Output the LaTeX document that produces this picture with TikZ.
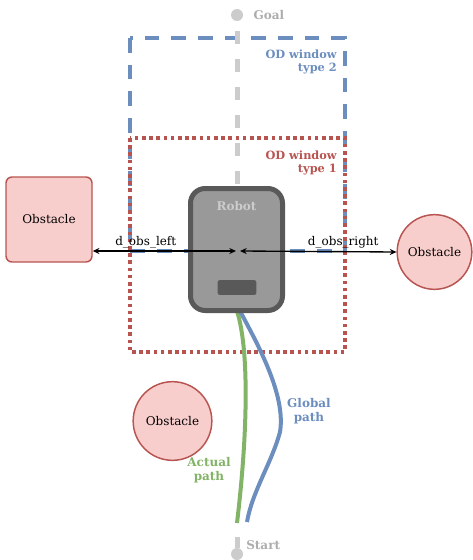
\documentclass[tikz,border=0pt]{standalone}
\usepackage{fontspec}
\setmainfont{DejaVu Serif}
\usetikzlibrary{positioning,arrows.meta}

\definecolor{winblue}{HTML}{6C8EBF}
\definecolor{winred}{HTML}{B85450}
\definecolor{pathgreen}{HTML}{82B366}
\definecolor{obsfill}{HTML}{F8CECC}
\definecolor{markgray}{HTML}{CCCCCC}
\definecolor{robotfill}{HTML}{999999}
\definecolor{robotdark}{HTML}{595959}

\tikzset{
  obstaclebox/.style={rectangle, rounded corners=4.5pt, draw=winred, fill=obsfill, line width=1.1pt, minimum width=64.5pt, minimum height=63.75pt, font=\fontsize{9}{10}\selectfont},
  obstacle/.style={circle, draw=winred, fill=obsfill, line width=1.1pt, inner sep=0pt, font=\fontsize{9}{10}\selectfont},
  window2/.style={draw=winblue, line width=3pt, dash pattern=on 11pt off 9pt},
  window1/.style={draw=winred, line width=3pt, dash pattern=on 2.7pt off 2.7pt},
  wintext/.style={align=right, inner sep=0pt, font=\bfseries\fontsize{8.5}{9.75}\selectfont},
  waypoint/.style={circle, fill=markgray, minimum size=9pt, inner sep=0pt},
  waytext/.style={inner sep=0pt, text=markgray!85!black, font=\bfseries\fontsize{9}{10}\selectfont},
  graybar/.style={draw=markgray, line width=3.75pt},
  robotbody/.style={rectangle, rounded corners=11pt, draw=robotdark, fill=robotfill, line width=3.75pt, minimum width=69pt, minimum height=91.5pt},
  sensor/.style={rectangle, rounded corners=1.5pt, fill=robotdark, minimum width=29pt, minimum height=11pt, inner sep=0pt},
  robotlabel/.style={inner sep=0pt, text=markgray, font=\bfseries\fontsize{9}{10}\selectfont},
  dist/.style={{Stealth[length=5pt,width=4.5pt]}-{Stealth[length=5pt,width=4.5pt]}, line width=1pt},
  distlabel/.style={inner sep=1.8pt, font=\fontsize{9}{10}\selectfont},
  pathline/.style={line width=3pt},
  pathlabel/.style={align=center, inner sep=0pt, font=\bfseries\fontsize{9}{10.5}\selectfont}
}

\begin{document}
\begin{tikzpicture}[x=0.75pt, y=-0.75pt]
\useasboundingbox (0,0) rectangle (472,560);

% Windows
\draw[window2] (130,38) rectangle (345,251);
\draw[window1] (130,138) rectangle (345,352);
\node (win2text) [wintext, text=winblue, anchor=east] at (337,62) {OD window\\type 2};
\node (win1text) [wintext, text=winred, anchor=east] at (337,163) {OD window\\type 1};

% Goal and start
\node (goal) [waypoint] at (237,15) {};
\node (goaltext) [waytext, right=7.5pt of goal] {Goal};
\coordinate (robottop) at (237,190);
\draw[graybar, dash pattern=on 9.75pt off 11.25pt] ([yshift=-7.5pt]goal.south) -- (robottop);
\node (start) [waypoint] at (237,554) {};
\node (starttext) [waytext, anchor=west] at (246,545) {Start};
\coordinate (startbar) at (237,537);
\draw[graybar] (start) -- (startbar);

% Obstacles
\node (obsleft) [obstaclebox] at (49,219.5) {Obstacle};
\node (obsright) [obstacle, minimum size=56pt] at (434.5,252) {Obstacle};
\node (obslow) [obstacle, minimum size=59pt] at (172.5,421) {Obstacle};

% Paths
\coordinate (actualend) at (237,523);
\coordinate (globalend) at (247,522);
\coordinate (globalbend) at (280,432);
\draw[pathline, draw=pathgreen] (237,311) .. controls (250,352) and (247,440) .. (actualend);
\draw[pathline, draw=winblue] (240,311) .. controls (258,345) and (286,395) .. (globalbend)
  .. controls (272,462) and (252,492) .. (globalend);
\node (globaltext) [pathlabel, text=winblue] at (309,411) {Global\\path};
\node (actualtext) [pathlabel, text=pathgreen] at (209,470) {Actual\\path};

% Robot
\node (robot) [robotbody] at (236.5,249.5) {};
\node (robottext) [robotlabel, below=11pt of robot.north] {Robot};
\node (sensor) [sensor] at (237,287.5) {};

% Arrows
\coordinate (robotL) at (236,251);
\coordinate (robotR) at (240,251);
\draw[dist] (robotL -| obsleft.east) -- node[distlabel, above, pos=0.37] {d\_obs\_left} (robotL);
\draw[dist] (robotR) -- node[distlabel, above, pos=0.66] {d\_obs\_right} (obsright.west);

\end{tikzpicture}
\end{document}
